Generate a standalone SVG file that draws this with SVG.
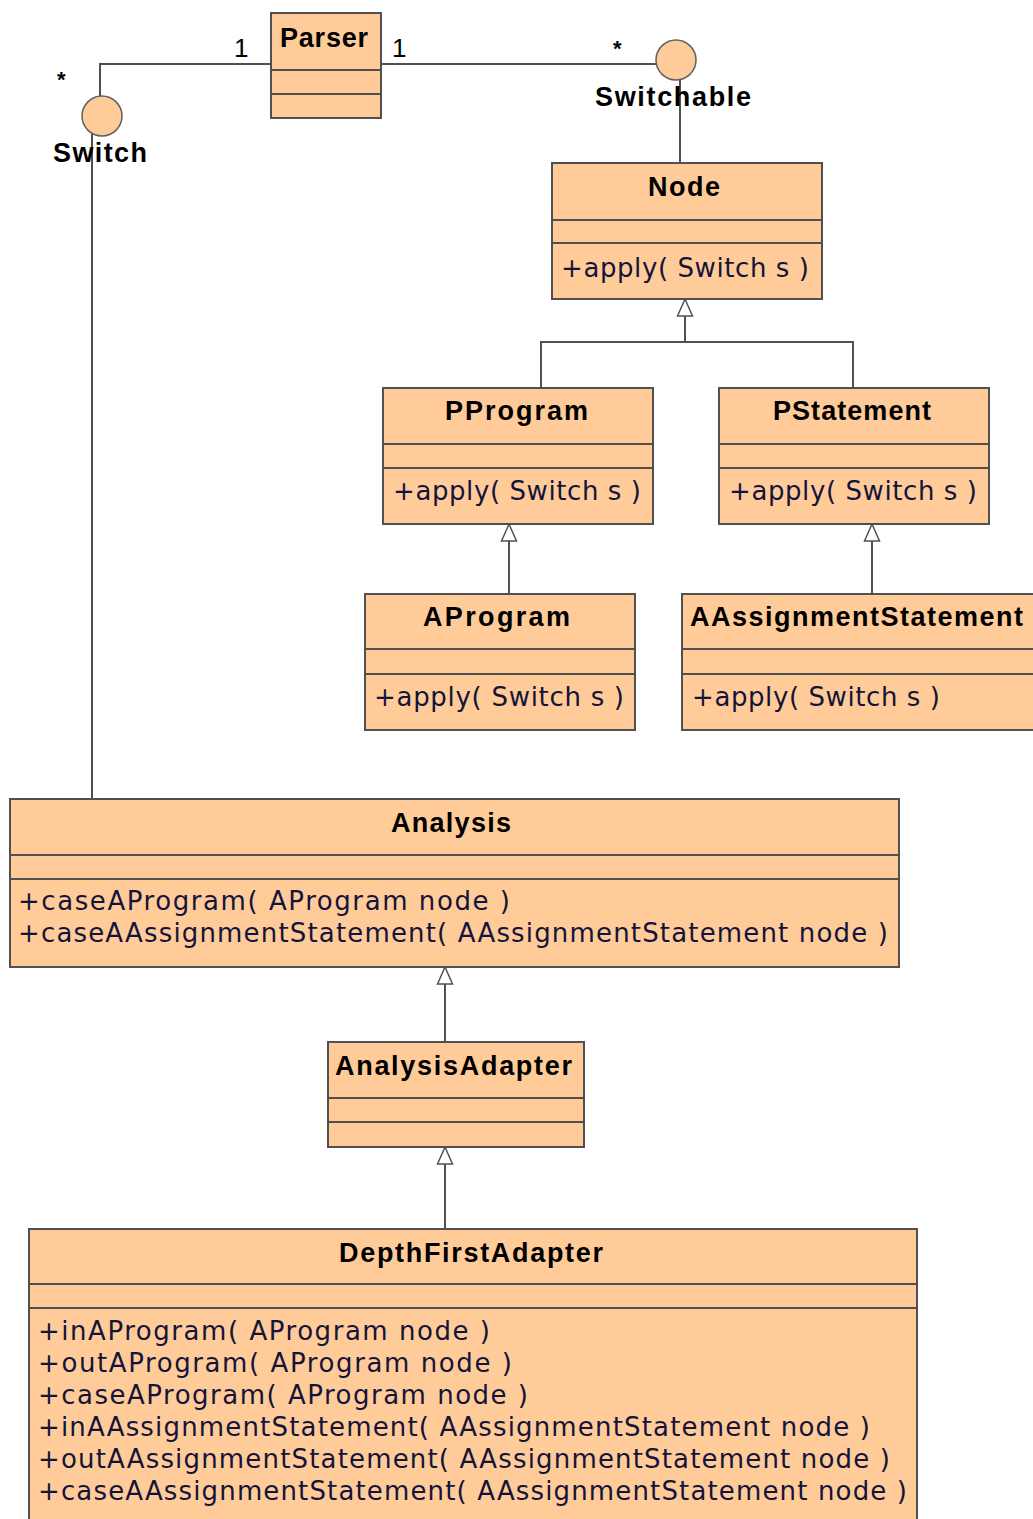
<svg xmlns="http://www.w3.org/2000/svg" width="1033" height="1519" viewBox="0 0 1033 1519">
  <style>
    .box{fill:#FFCC99;stroke:#505050;stroke-width:2}
    .sep{stroke:#505050;stroke-width:2}
    .iface{fill:#FFCC99;stroke:#606060;stroke-width:1.5}
    .title{font-family:"Liberation Sans",Arial,sans-serif;font-weight:bold;font-size:27px;fill:#000}
    .op{font-family:"DejaVu Sans",Verdana,sans-serif;font-size:26px;fill:#14143a}
    .wire{fill:none;stroke:#505050;stroke-width:2}
    .mult{font-family:"Liberation Sans",Arial,sans-serif;font-size:26px;fill:#000}
    .star{font-family:"Liberation Sans",Arial,sans-serif;font-size:22px;font-weight:bold;fill:#000}
  </style>
  <defs>
    <!-- hollow triangle for generalization -->
    <marker id="gen" markerUnits="userSpaceOnUse" markerWidth="20" markerHeight="18" viewBox="0 0 20 18" refX="18" refY="9" orient="auto">
      <path d="M1,1.5 L18,9 L1,16.5 Z" fill="#fff" stroke="#505050" stroke-width="1.5"/>
    </marker>
  </defs>
  <rect width="1033" height="1519" fill="#fff"/>

  <g id="connectors">
    <!-- Parser to Switch -->
    <path class="wire" d="M271,64 H100 V96"/>
    <path class="wire" d="M92,133 V799"/>
    <!-- Parser to Switchable -->
    <path class="wire" d="M381,64 H656"/>
    <path class="wire" d="M680,80 V163"/>
    <!-- Node generalization -->
    <path class="wire" d="M541,388 V342 H853 V388"/>
    <path class="wire" d="M685,342 V299" marker-end="url(#gen)"/>
    <path class="wire" d="M509,594 V524" marker-end="url(#gen)"/>
    <path class="wire" d="M872,594 V524" marker-end="url(#gen)"/>
    <path class="wire" d="M445,1042 V967" marker-end="url(#gen)"/>
    <path class="wire" d="M445,1229 V1147" marker-end="url(#gen)"/>
    <!-- multiplicities -->
    <text class="mult" x="234" y="57">1</text>
    <text class="mult" x="392" y="57">1</text>
    <text class="star" x="57" y="87">*</text>
    <text class="star" x="613" y="56">*</text>
  </g>

  <g id="switch">
    <circle class="iface" cx="102" cy="116" r="20"/>
    <text class="title" x="53" y="162" textLength="94" lengthAdjust="spacing">Switch</text>
  </g>

  <g id="switchable">
    <circle class="iface" cx="676" cy="60" r="20"/>
    <text class="title" x="595" y="106" textLength="156" lengthAdjust="spacing">Switchable</text>
  </g>

  <g id="parser">
    <rect class="box" x="271" y="13" width="110" height="105"/>
    <line class="sep" x1="271" y1="70" x2="381" y2="70"/>
    <line class="sep" x1="271" y1="94" x2="381" y2="94"/>
    <text class="title" x="280" y="47" textLength="88" lengthAdjust="spacing">Parser</text>
  </g>

  <g id="node">
    <rect class="box" x="552" y="163" width="270" height="136"/>
    <line class="sep" x1="552" y1="220" x2="822" y2="220"/>
    <line class="sep" x1="552" y1="243" x2="822" y2="243"/>
    <text class="title" x="648" y="196" textLength="72" lengthAdjust="spacing">Node</text>
    <text class="op" x="561" y="277" textLength="248" lengthAdjust="spacing">+apply( Switch s )</text>
  </g>

  <g id="pprogram">
    <rect class="box" x="383" y="388" width="270" height="136"/>
    <line class="sep" x1="383" y1="444" x2="653" y2="444"/>
    <line class="sep" x1="383" y1="468" x2="653" y2="468"/>
    <text class="title" x="445" y="420" textLength="143" lengthAdjust="spacing">PProgram</text>
    <text class="op" x="393" y="500" textLength="248" lengthAdjust="spacing">+apply( Switch s )</text>
  </g>

  <g id="pstatement">
    <rect class="box" x="719" y="388" width="270" height="136"/>
    <line class="sep" x1="719" y1="444" x2="989" y2="444"/>
    <line class="sep" x1="719" y1="468" x2="989" y2="468"/>
    <text class="title" x="773" y="420" textLength="158" lengthAdjust="spacing">PStatement</text>
    <text class="op" x="729" y="500" textLength="248" lengthAdjust="spacing">+apply( Switch s )</text>
  </g>

  <g id="aprogram">
    <rect class="box" x="365" y="594" width="270" height="136"/>
    <line class="sep" x1="365" y1="649" x2="635" y2="649"/>
    <line class="sep" x1="365" y1="674" x2="635" y2="674"/>
    <text class="title" x="423" y="626" textLength="147" lengthAdjust="spacing">AProgram</text>
    <text class="op" x="374" y="706" textLength="250" lengthAdjust="spacing">+apply( Switch s )</text>
  </g>

  <g id="aassignmentstatement">
    <rect class="box" x="682" y="594" width="370" height="136"/>
    <line class="sep" x1="682" y1="649" x2="1052" y2="649"/>
    <line class="sep" x1="682" y1="674" x2="1052" y2="674"/>
    <text class="title" x="690" y="626" textLength="333" lengthAdjust="spacing">AAssignmentStatement</text>
    <text class="op" x="692" y="706" textLength="248" lengthAdjust="spacing">+apply( Switch s )</text>
  </g>

  <g id="analysis">
    <rect class="box" x="10" y="799" width="889" height="168"/>
    <line class="sep" x1="10" y1="855" x2="899" y2="855"/>
    <line class="sep" x1="10" y1="879" x2="899" y2="879"/>
    <text class="title" x="391" y="832" textLength="120" lengthAdjust="spacing">Analysis</text>
    <text class="op" x="18" y="910" textLength="492" lengthAdjust="spacing">+caseAProgram( AProgram node )</text>
    <text class="op" x="18" y="942" textLength="870" lengthAdjust="spacing">+caseAAssignmentStatement( AAssignmentStatement node )</text>
  </g>

  <g id="analysisadapter">
    <rect class="box" x="328" y="1042" width="256" height="105"/>
    <line class="sep" x1="328" y1="1098" x2="584" y2="1098"/>
    <line class="sep" x1="328" y1="1122" x2="584" y2="1122"/>
    <text class="title" x="335" y="1075" textLength="237" lengthAdjust="spacing">AnalysisAdapter</text>
  </g>

  <g id="depthfirstadapter">
    <rect class="box" x="29" y="1229" width="888" height="310"/>
    <line class="sep" x1="29" y1="1284" x2="917" y2="1284"/>
    <line class="sep" x1="29" y1="1308" x2="917" y2="1308"/>
    <text class="title" x="339" y="1262" textLength="264" lengthAdjust="spacing">DepthFirstAdapter</text>
    <text class="op" x="38" y="1340" textLength="452" lengthAdjust="spacing">+inAProgram( AProgram node )</text>
    <text class="op" x="38" y="1372" textLength="474" lengthAdjust="spacing">+outAProgram( AProgram node )</text>
    <text class="op" x="38" y="1404" textLength="490" lengthAdjust="spacing">+caseAProgram( AProgram node )</text>
    <text class="op" x="38" y="1436" textLength="832" lengthAdjust="spacing">+inAAssignmentStatement( AAssignmentStatement node )</text>
    <text class="op" x="38" y="1468" textLength="852" lengthAdjust="spacing">+outAAssignmentStatement( AAssignmentStatement node )</text>
    <text class="op" x="38" y="1500" textLength="869" lengthAdjust="spacing">+caseAAssignmentStatement( AAssignmentStatement node )</text>
  </g>
</svg>
